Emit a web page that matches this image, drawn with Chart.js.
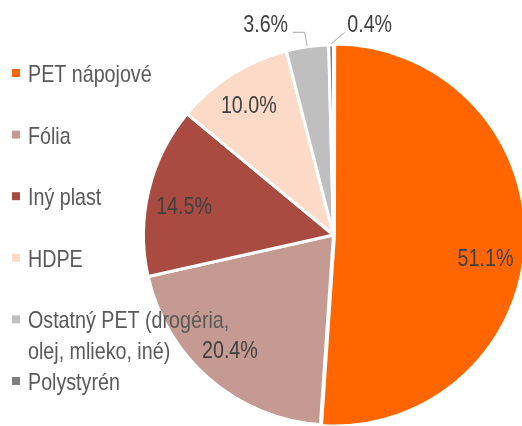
<!DOCTYPE html>
<html><head><meta charset="utf-8">
<script src="https://cdn.jsdelivr.net/npm/chart.js@4/dist/chart.umd.min.js"></script>
<style>html,body{margin:0;padding:0;background:#fff}#wrap{width:522px;height:426px;position:relative;overflow:hidden}</style>
</head><body><div id="wrap"><canvas id="c" width="522" height="426"></canvas></div>
<script>
const categories = ['PET nápojové', 'Fólia', 'Iný plast', 'HDPE', 'Ostatný PET (drogéria, olej, mlieko, iné)', 'Polystyrén'];
const legendLines = [['PET nápojové'], ['Fólia'], ['Iný plast'], ['HDPE'], ['Ostatný PET (drogéria,', 'olej, mlieko, iné)'], ['Polystyrén']];
const shares = [51.1, 20.4, 14.5, 10.0, 3.6, 0.4];
const valueLabels = ['51.1%', '20.4%', '14.5%', '10.0%', '3.6%', '0.4%'];
const colors = ['#FF6600', '#C49A92', '#A94B41', '#FDDAC8', '#BFBFBF', '#7F7F7F'];

const FONT = "'Liberation Sans', Arial, sans-serif";
const NARROW = 0.82; // condensed look (Arial Narrow-like)

// label placement: angle shift (deg) and radius fraction; outside labels get leader lines
const labelPlacement = [
  {shift: 7, r: 0.81},
  {shift: 1, r: 0.82},
  {shift: -3, r: 0.80},
  {shift: -1, r: 0.81},
  {shift: -10, r: 1.16, leader: [[39, 7], [27, 7]]},
  {shift: 10.5, r: 1.12, leader: [[-25, 7]]}
];

function narrowText(ctx, text, x, y, align) {
  ctx.save();
  ctx.translate(x, y);
  ctx.scale(NARROW, 1);
  ctx.textAlign = align;
  ctx.fillText(text, 0, 0);
  ctx.restore();
}

const overlay = {
  id: 'overlay',
  afterDraw(chart) {
    const ctx = chart.ctx;
    const meta = chart.getDatasetMeta(0);
    const ref = meta.data[1];
    const cx = ref.x, cy = ref.y, R = ref.outerRadius;
    ctx.save();
    ctx.font = '24px ' + FONT;
    ctx.textBaseline = 'middle';
    meta.data.forEach((arc, i) => {
      const p = labelPlacement[i];
      const mid = (arc.startAngle + arc.endAngle) / 2 + p.shift * Math.PI / 180;
      const lx = cx + Math.cos(mid) * R * p.r;
      const ly = cy + Math.sin(mid) * R * p.r;
      if (p.leader) {
        const m0 = (arc.startAngle + arc.endAngle) / 2;
        ctx.strokeStyle = '#A6A6A6';
        ctx.lineWidth = 1;
        ctx.beginPath();
        ctx.moveTo(cx + Math.cos(m0) * (R + 1), cy + Math.sin(m0) * (R + 1));
        p.leader.forEach(([dx, dy]) => ctx.lineTo(lx + dx, ly + dy));
        ctx.stroke();
      }
      ctx.fillStyle = '#404040';
      narrowText(ctx, valueLabels[i], lx, ly, 'center');
    });
    // legend drawn on top
    ctx.textBaseline = 'alphabetic';
    legendLines.forEach((lines, i) => {
      const base = 82 + i * 61.6;
      ctx.fillStyle = colors[i];
      ctx.fillRect(12, base - 13, 8, 8);
      ctx.fillStyle = '#595959';
      lines.forEach((t, k) => narrowText(ctx, t, 28, base + k * 31, 'left'));
    });
    ctx.restore();
  }
};

new Chart(document.getElementById('c'), {
  type: 'pie',
  data: {
    labels: categories,
    datasets: [{
      data: shares,
      backgroundColor: colors,
      borderColor: '#FFFFFF',
      borderWidth: 3,
      offset: [4, 0, 0, 0, 0, 0],
      radius: 190
    }]
  },
  options: {
    responsive: false,
    animation: false,
    events: [],
    layout: {padding: {left: 145, top: 45, right: -3, bottom: 1}},
    plugins: {legend: {display: false}, tooltip: {enabled: false}}
  },
  plugins: [overlay]
});
</script>
</body></html>
